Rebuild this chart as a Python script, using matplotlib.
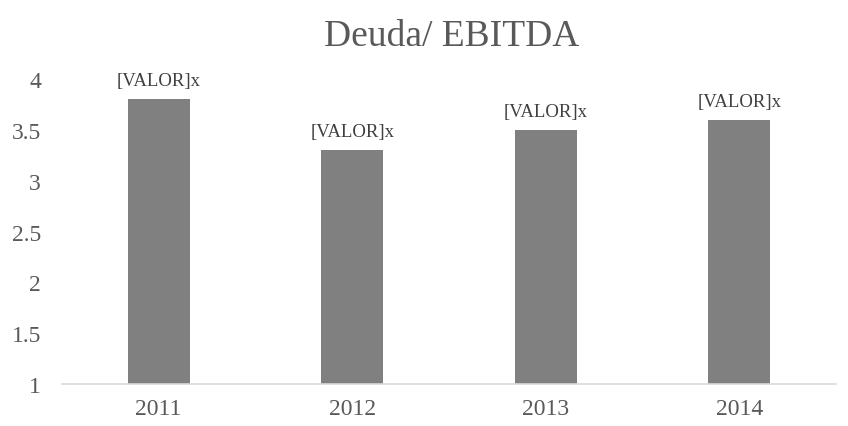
import matplotlib.pyplot as plt

years = ["2011", "2012", "2013", "2014"]
ratios = [3.8, 3.3, 3.5, 3.6]
bar_labels = ["[VALOR]x", "[VALOR]x", "[VALOR]x", "[VALOR]x"]

plt.rcParams["font.family"] = ["Liberation Serif", "DejaVu Serif"]

fig = plt.figure(figsize=(8.48, 4.27), dpi=100)
ax = fig.add_axes([0.073, 0.0984, 0.913, 0.7142])

x = range(len(years))
bars = ax.bar(x, ratios, width=0.32, color="#808080", bottom=0)
ax.set_xlim(-0.5, len(years) - 0.5)
ax.set_ylim(1, 4)
ax.set_yticks([1, 1.5, 2, 2.5, 3, 3.5, 4])
ax.set_yticklabels(["1", "1.5", "2", "2.5", "3", "3.5", "4"])
ax.set_xticks(list(x))
ax.set_xticklabels(years)
ax.tick_params(axis="both", length=0, labelsize=17, colors="#595959")
ax.tick_params(axis="y", pad=15)
ax.tick_params(axis="x", pad=10)

for side in ["top", "right", "left"]:
    ax.spines[side].set_visible(False)
ax.spines["bottom"].set_color("#d9d9d9")
ax.spines["bottom"].set_linewidth(1.2)

for i, (v, lab) in enumerate(zip(ratios, bar_labels)):
    ax.text(i, v + 0.1, lab, ha="center", va="bottom", fontsize=13.5, color="#404040")

fig.text(0.533, 0.915, "Deuda/ EBITDA", ha="center", va="center", fontsize=27, color="#595959")

fig.savefig("out.png", dpi=100)
